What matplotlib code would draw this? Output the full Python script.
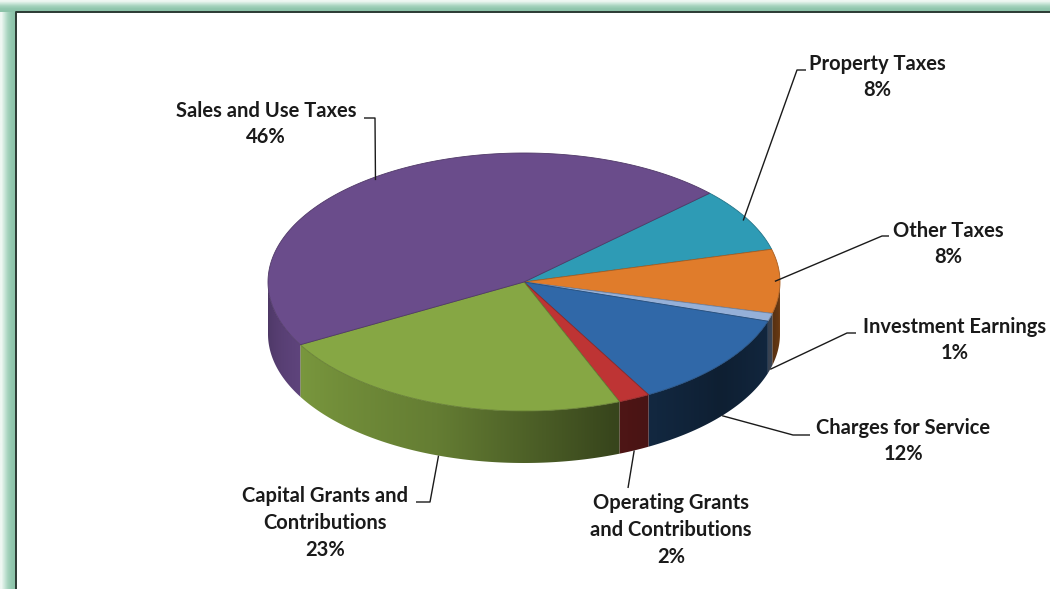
import numpy as np
import matplotlib as mpl
mpl.use('Agg')
import matplotlib.pyplot as plt
from matplotlib.patches import Polygon
from matplotlib.colors import to_rgb

# revenue sources, listed clockwise starting from the purple/teal boundary
labels = ['Property Taxes', 'Other Taxes', 'Investment Earnings',
          'Charges for Service', 'Operating Grants\nand Contributions',
          'Capital Grants and\nContributions', 'Sales and Use Taxes']
shares = [8, 8, 1, 12, 2, 23, 46]
colors = ['#2e9bb5', '#e07c2b', '#95b0d8', '#3068a8', '#be3434', '#86a744', '#6a4c8b']

# pie geometry in pixel space
cx, cy = 524.0, 282.0
rx, ry = 256.0, 129.0
depth = 52.0
start = 43.5

# label block centres, leader elbows and where the leader meets the text
text_xy = [(877, 77), (948, 244), (955, 340), (903, 441), (671, 530), (325, 523), (266, 124)]
elbow_xy = [(797, 70), (882, 236), (847, 333), (793, 435), (628, 488), (430, 502), (375, 118)]
end_xy = [(806, 70), (889, 236), (856, 333), (810, 435), (628, 488), (416, 502), (364, 118)]
on_wall = [False, False, True, True, True, True, False]

plt.rcParams['font.family'] = ['Lato', 'DejaVu Sans']

fig = plt.figure(figsize=(10.5, 5.89), dpi=100)
ax = fig.add_axes([0, 0, 1, 1])
ax.set_xlim(0, 1050)
ax.set_ylim(589, 0)
ax.axis('off')


def pt(deg, dz=0.0):
    t = np.radians(deg)
    return cx + rx * np.cos(t), cy - ry * np.sin(t) + dz


def shade(deg):
    # darker towards the right-hand side of the front wall
    return np.interp(deg, [-180, -150, -110, -70, -40, -15, 0],
                     [0.72, 0.9, 0.75, 0.42, 0.3, 0.38, 0.5])


# slice angles, going clockwise
bounds = [start]
for s in shares:
    bounds.append(bounds[-1] - 360.0 * s / sum(shares))

# column angle across the front wall, used for the gradient
xcol = np.linspace(cx - rx, cx + rx, 600)
tcol = -np.degrees(np.arccos(np.clip((xcol - cx) / rx, -1, 1)))
shade_col = shade(tcol)

# front wall
for i, c in enumerate(colors):
    a0, a1 = bounds[i], bounds[i + 1]
    for k in (0, 360, -360):
        hi = min(a0 + k, 0.0)
        lo = max(a1 + k, -180.0)
        if hi <= lo:
            continue
        a = np.linspace(hi, lo, 120)
        xs, ys = pt(a)
        verts = list(zip(xs, ys)) + list(zip(xs[::-1], ys[::-1] + depth))
        wall = Polygon(verts, closed=True, facecolor='none', edgecolor='none')
        ax.add_patch(wall)
        img = np.clip(np.array(to_rgb(c))[None, None, :] * shade_col[None, :, None], 0, 1)
        im = ax.imshow(img, extent=(cx - rx, cx + rx, cy + ry + depth, cy),
                       aspect='auto', interpolation='bilinear', zorder=2)
        im.set_clip_path(wall)

# top surface
for i, c in enumerate(colors):
    a = np.linspace(bounds[i], bounds[i + 1], 200)
    xs, ys = pt(a)
    verts = [(cx, cy)] + list(zip(xs, ys))
    ax.add_patch(Polygon(verts, closed=True, facecolor=c,
                         edgecolor=np.array(to_rgb(c)) * 0.75, lw=0.6, zorder=3))

# labels with leader lines
for i, lab in enumerate(labels):
    mid = (bounds[i] + bounds[i + 1]) / 2
    if on_wall[i]:
        axp = pt(mid, depth)
    else:
        axp = pt(mid)
        axp = (cx + (axp[0] - cx) * 0.98, cy + (axp[1] - cy) * 0.98)
    ax.plot([axp[0], elbow_xy[i][0], end_xy[i][0]],
            [axp[1], elbow_xy[i][1], end_xy[i][1]],
            color='#1a1a1a', lw=1.0, zorder=4, solid_capstyle='butt')
    ax.text(text_xy[i][0], text_xy[i][1], '%s\n%d%%' % (lab, shares[i]),
            ha='center', va='center', multialignment='center',
            fontsize=14.5, fontweight='bold', color='#1a1a1a',
            linespacing=1.42, zorder=5)

# green glow frame on left and top
glow = np.array([to_rgb('#eef7f2'), to_rgb('#c9e6d8'), to_rgb('#a5d3bd'),
                 to_rgb('#93c8af'), to_rgb('#8cc3a9')])
ax.imshow(glow[np.newaxis, :, :], extent=(0, 16, 589, 0), aspect='auto',
          interpolation='bilinear', zorder=0)
ax.imshow(glow[:, np.newaxis, :], extent=(0, 1050, 12, 0), aspect='auto',
          interpolation='bilinear', zorder=0)
ax.plot([16, 16, 1050], [589, 12, 12], color='#2b3a33', lw=1.4, zorder=6)

ax.set_xlim(0, 1050)
ax.set_ylim(589, 0)

plt.savefig('out.png', dpi=100)
